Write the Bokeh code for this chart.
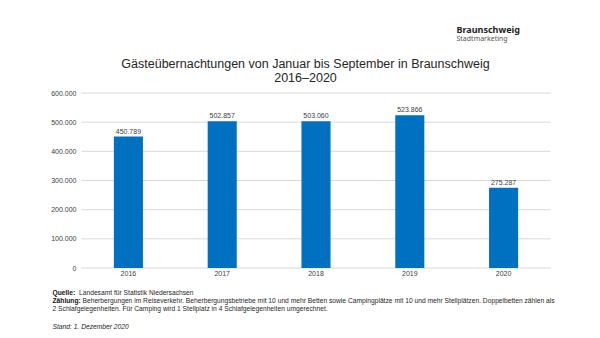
from bokeh.plotting import figure
from bokeh.models import Label, FixedTicker, ColumnDataSource, Range1d
from bokeh.core.properties import value
from bokeh.embed import file_html
from bokeh.resources import INLINE

years = [2016, 2017, 2018, 2019, 2020]
guests = [450789, 502857, 503060, 523866, 275287]
guest_labels = ["450.789", "502.857", "503.060", "523.866", "275.287"]
y_ticks = [0, 100000, 200000, 300000, 400000, 500000, 600000]
y_tick_labels = ["0", "100.000", "200.000", "300.000", "400.000", "500.000", "600.000"]

FONT = "Liberation Sans"
W, H = 600, 338
# chart area in canvas pixels
CL, CR, CT, CB = 81.0, 550.0, 92.5, 267.5

# ranges chosen so that the frame fills the canvas and the chart area lands at CL..CR, CT..CB
x_lo, x_hi = years[0] - 0.5, years[-1] + 0.5
xu = (x_hi - x_lo) / (CR - CL)
y_lo, y_hi = y_ticks[0], y_ticks[-1]
yu = (y_hi - y_lo) / (CB - CT)

p = figure(width=W, height=H, output_backend="svg", toolbar_location=None,
           x_range=Range1d(x_lo - CL * xu, x_hi + (W - CR) * xu),
           y_range=Range1d(y_lo - (H - CB) * yu, y_hi + CT * yu),
           min_border=0, min_border_left=0, min_border_right=0,
           min_border_top=0, min_border_bottom=0)
p.outline_line_color = None
p.background_fill_color = "white"
p.border_fill_color = "white"
p.xgrid.visible = False
p.ygrid.visible = False

# horizontal grid lines
p.segment(x0=[x_lo] * len(y_ticks), x1=[x_hi] * len(y_ticks), y0=y_ticks, y1=y_ticks,
          line_color="#D9D9D9", line_width=1)

src = ColumnDataSource(dict(x=years, y=guests, t=guest_labels))
p.vbar(x="x", top="y", width=0.31, source=src, fill_color="#0070C0", line_color=None)
p.text(x="x", y="y", text="t", source=src, text_align="center", text_baseline="bottom",
       y_offset=-3, text_font=value(FONT), text_font_size="7px", text_color="#404040")

p.xaxis.fixed_location = 0
p.yaxis.fixed_location = x_lo
p.xaxis.ticker = FixedTicker(ticks=years)
p.yaxis.ticker = FixedTicker(ticks=y_ticks)
p.yaxis.major_label_overrides = {t: s for t, s in zip(y_ticks, y_tick_labels)}
for ax in (p.xaxis[0], p.yaxis[0]):
    ax.axis_line_color = None
    ax.major_tick_line_color = None
    ax.minor_tick_line_color = None
    ax.major_tick_out = 0
    ax.major_tick_in = 0
    ax.major_label_text_font = FONT
    ax.major_label_text_font_size = "7px"
    ax.major_label_text_color = "#404040"
p.yaxis.major_label_standoff = 5
p.xaxis.major_label_standoff = 3


def lab(text, X, Y, size, color="#262626", style="normal", align="left", font=FONT, baseline="middle"):
    p.add_layout(Label(x=X, y=H - Y, x_units="screen", y_units="screen", text=text,
                       text_font=font, text_font_size=size, text_color=color,
                       text_font_style=style, text_align=align, text_baseline=baseline))

# Title
lab("Gästeübernachtungen von Januar bis September in Braunschweig", 305, 63, "12.5px", align="center")
lab("2016–2020", 305, 77, "12.5px", align="center")

# Logo text
lab("Braunschweig", 456, 29, "9px", color="#222222", style="bold", font="Noto Sans")
lab("Stadtmarketing", 456, 38, "7px", color="#555555", font="Noto Sans")

# Footnotes
FS = "6.7px"
lab("Quelle:", 52, 292, FS, color="#111111", style="bold")
lab("Landesamt für Statistik Niedersachsen", 78.5, 292, FS, color="#262626")
lab("Zählung:", 52, 300, FS, color="#111111", style="bold")
lab("Beherbergungen im Reiseverkehr. Beherbergungsbetriebe mit 10 und mehr Betten sowie Campingplätze mit 10 und mehr Stellplätzen. Doppelbetten zählen als",
    82, 300, FS, color="#262626")
lab("2 Schlafgelegenheiten. Für Camping wird 1 Stellplatz in 4 Schlafgelegenheiten umgerechnet.",
    52, 308, FS, color="#262626")
lab("Stand: 1. Dezember 2020", 52, 326, FS, color="#262626", style="italic")

open("out.html", "w").write(file_html(p, INLINE))
